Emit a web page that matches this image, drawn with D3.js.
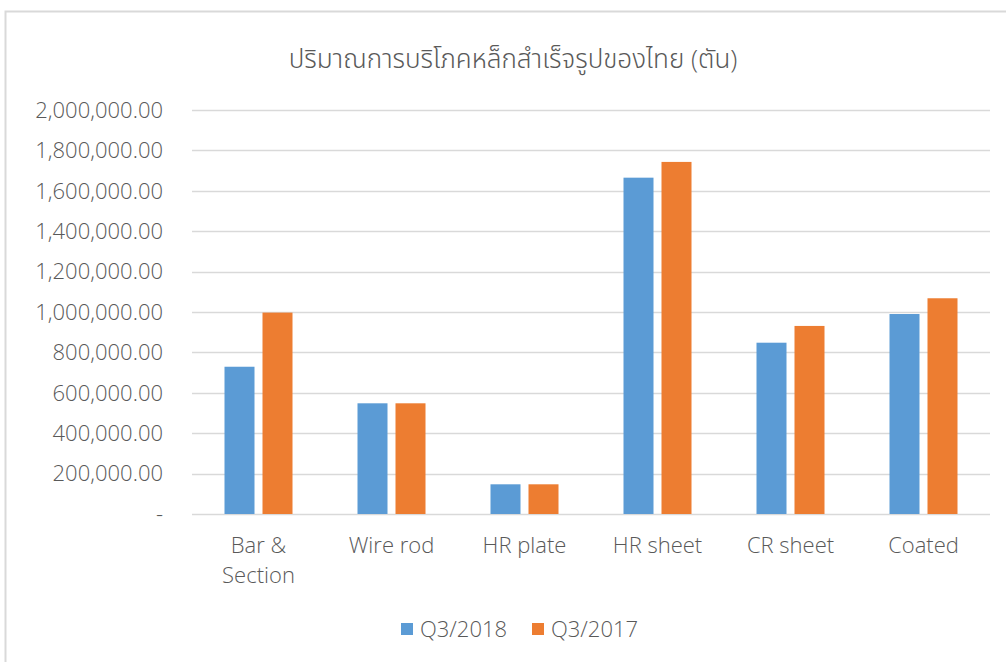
<!DOCTYPE html>
<html>
<head>
<meta charset="utf-8">
<script src="https://cdn.jsdelivr.net/npm/d3@7"></script>
<style>
  body { margin: 0; background: #fff; }
  svg { display: block; font-family: "Open Sans", "Noto Sans", "Noto Sans Thai", sans-serif; font-weight: 300; }
</style>
</head>
<body>
<svg id="chart"></svg>
<script>
// Categories and series values (tonnes)
const categories = ["Bar & Section", "Wire rod", "HR plate", "HR sheet", "CR sheet", "Coated"];
const seriesNames = ["Q3/2018", "Q3/2017"];
const q32018 = [729000, 548000, 147000, 1665000, 848000, 990000];
const q32017 = [997000, 548000, 147000, 1743000, 931000, 1068000];
const yTicks = [0, 200000, 400000, 600000, 800000, 1000000, 1200000, 1400000, 1600000, 1800000, 2000000];
const title = "ปริมาณการบริโภคหล็กสำเร็จรูปของไทย  (ตัน)";

const colors = ["#5b9bd5", "#ed7d31"];
const width = 1006;
const height = 662;
const margin = { top: 110, right: 16, bottom: 148, left: 192 };

const svg = d3.select("#chart")
  .attr("width", width)
  .attr("height", height);

// Chart area border (only the top and left edges are in view)
svg.append("rect")
  .attr("x", 5.5)
  .attr("y", 11.5)
  .attr("width", width + 20)
  .attr("height", height + 20)
  .attr("fill", "none")
  .attr("stroke", "#d9d9d9")
  .attr("stroke-width", 2);

const data = categories.map((c, i) => ({ category: c, values: [q32018[i], q32017[i]] }));

const x0 = d3.scaleBand()
  .domain(categories)
  .range([margin.left, width - margin.right])
  .padding(0);

const bw = x0.bandwidth();
const x1 = d3.scaleBand()
  .domain(seriesNames)
  .range([bw / 2 - 34, bw / 2 + 34])
  .paddingInner(0.2105);

const y = d3.scaleLinear()
  .domain([0, 2000000])
  .range([height - margin.bottom, margin.top]);

// Gridlines
svg.append("g")
  .selectAll("line")
  .data(yTicks)
  .enter().append("line")
  .attr("x1", margin.left)
  .attr("x2", width - margin.right)
  .attr("y1", d => Math.round(y(d)) + 0.5)
  .attr("y2", d => Math.round(y(d)) + 0.5)
  .attr("stroke", "#d9d9d9")
  .attr("stroke-width", 1.3);

// Y tick labels
const fmt = d3.format(",.2f");
svg.append("g")
  .selectAll("text")
  .data(yTicks)
  .enter().append("text")
  .attr("x", 163)
  .attr("y", d => y(d))
  .attr("dy", "0.35em")
  .attr("text-anchor", "end")
  .attr("font-size", "22px")
  .attr("fill", "#595959")
  .text(d => d === 0 ? "-" : fmt(d));

// Bars
const groups = svg.append("g")
  .selectAll("g")
  .data(data)
  .enter().append("g")
  .attr("transform", d => `translate(${x0(d.category)},0)`);

groups.selectAll("rect")
  .data(d => d.values.map((v, i) => ({ series: seriesNames[i], value: v, i })))
  .enter().append("rect")
  .attr("x", d => x1(d.series))
  .attr("y", d => y(d.value))
  .attr("width", x1.bandwidth())
  .attr("height", d => y(0) - y(d.value))
  .attr("fill", d => colors[d.i]);

// Category labels
const catLabels = svg.append("g")
  .selectAll("text")
  .data(categories)
  .enter().append("text")
  .attr("x", d => x0(d) + bw / 2)
  .attr("y", 553)
  .attr("text-anchor", "middle")
  .attr("font-size", "22px")
  .attr("fill", "#595959");

catLabels.each(function(d) {
  const lines = d === "Bar & Section" ? ["Bar &", "Section"] : [d];
  d3.select(this).selectAll("tspan")
    .data(lines)
    .enter().append("tspan")
    .attr("x", x0(d) + bw / 2)
    .attr("dy", (l, i) => i === 0 ? 0 : 30)
    .text(l => l);
});

// Title
svg.append("text")
  .attr("x", 513)
  .attr("y", 68)
  .attr("text-anchor", "middle")
  .attr("font-size", "26px")
  .attr("fill", "#595959")
  .text(title);

// Legend
const legendX = [401, 532];
const legend = svg.append("g")
  .selectAll("g")
  .data(seriesNames)
  .enter().append("g")
  .attr("transform", (d, i) => `translate(${legendX[i]},623)`);

legend.append("rect")
  .attr("width", 12)
  .attr("height", 12)
  .attr("fill", (d, i) => colors[i]);

legend.append("text")
  .attr("x", 19)
  .attr("y", 6)
  .attr("dy", "0.35em")
  .attr("font-size", "22px")
  .attr("fill", "#595959")
  .text(d => d);
</script>
</body>
</html>
